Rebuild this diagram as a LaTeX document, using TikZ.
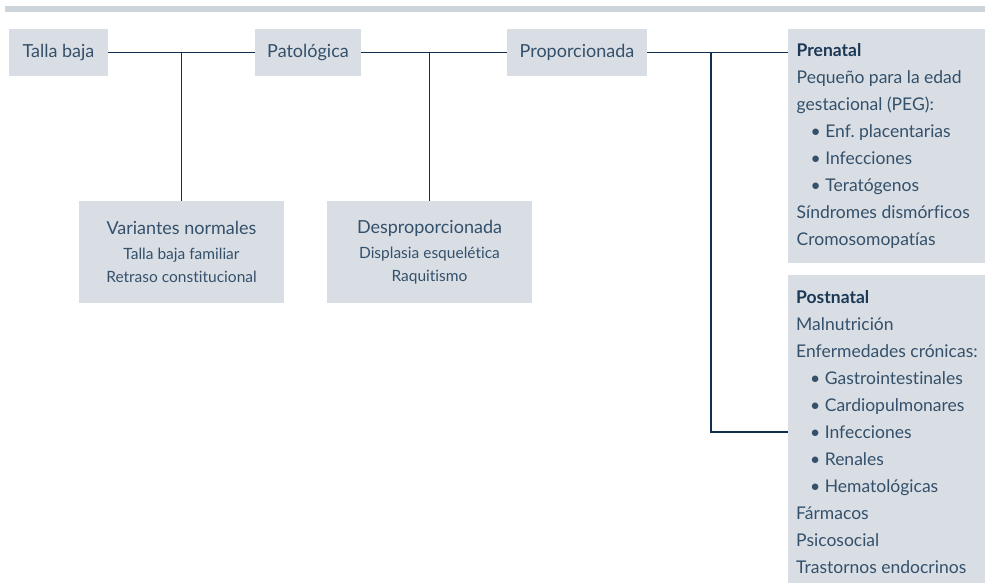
\documentclass[tikz,border=0pt]{standalone}
\usepackage{fontspec}
\setmainfont{Lato}[Ligatures=NoCommon]
\frenchspacing
\definecolor{cajagris}{HTML}{D9DEE5}
\definecolor{textoazul}{HTML}{34506A}
\definecolor{titazul}{HTML}{1B3855}
\definecolor{lineaazul}{HTML}{12304E}
\definecolor{bandagris}{HTML}{CDD4DA}
\newcommand{\subletra}{\fontsize{15.5}{23}\selectfont}
\newcommand{\vineta}{\hspace*{14pt}\textbullet\ }
\tikzset{
  caja/.style={fill=cajagris, text=textoazul, inner sep=0pt, minimum height=47pt,
    font=\fontsize{18}{23}\selectfont, align=center},
  cajasub/.style={caja, minimum width=205pt, minimum height=102pt},
  cajalista/.style={fill=cajagris, text=textoazul, anchor=north west, inner xsep=8pt,
    inner ysep=0pt, minimum width=197pt, align=left, font=\fontsize{17.5}{27}\selectfont},
  linea/.style={draw=lineaazul, line width=1.6pt}
}
\begin{document}
\begin{tikzpicture}[x=1pt, y=-1pt]
  \useasboundingbox (0,0) rectangle (985,583);

  % Band at top
  \fill[bandagris] (5,6) rectangle (985,12);

  % Main row
  \node[caja, minimum width=99pt] (talla) at (58.5,52.5) {Talla baja};
  \node[caja, minimum width=106pt] (pato) at (308,52.5) {Patológica};
  \node[caja, minimum width=140pt] (prop) at (577,52.5) {Proporcionada};

  % Lower boxes
  \node[cajasub] (var) at (181.5,252) {Variantes normales\\[2pt]
    {\subletra Talla baja familiar}\\{\subletra Retraso constitucional}};
  \node[cajasub] (desp) at (429.5,252) {Desproporcionada\\[2pt]
    {\subletra Displasia esquelética}\\{\subletra Raquitismo}};

  % Right lists
  \node[cajalista, minimum height=234pt] (pre) at (788,29) {%
    \makebox[180pt][l]{\color{titazul}\textbf{Prenatal}}\\
    Pequeño para la edad\\
    gestacional (PEG):\\
    \vineta Enf. placentarias\\
    \vineta Infecciones\\
    \vineta Teratógenos\\
    Síndromes dismórficos\\
    Cromosomopatías};
  \node[cajalista, minimum height=314pt] (post) at (788,275) {%
    \makebox[180pt][l]{\color{titazul}\textbf{Postnatal}}\\
    Malnutrición\\
    Enfermedades crónicas:\\
    \vineta Gastrointestinales\\
    \vineta Cardiopulmonares\\
    \vineta Infecciones\\
    \vineta Renales\\
    \vineta Hematológicas\\
    Fármacos\\
    Psicosocial\\
    Trastornos endocrinos};

  % Connectors
  \draw[linea] (talla) -- (pato);
  \draw[linea] (pato) -- (prop);
  \draw[linea] (prop.east) -- (prop.east -| pre.west);
  \draw[linea] (var.north |- talla.east) -- (var.north);
  \draw[linea] (desp.north |- pato.east) -- (desp.north);
  \coordinate (rama) at (711,52.5);
  \draw[linea] (rama) |- (post.west);
\end{tikzpicture}
\end{document}
